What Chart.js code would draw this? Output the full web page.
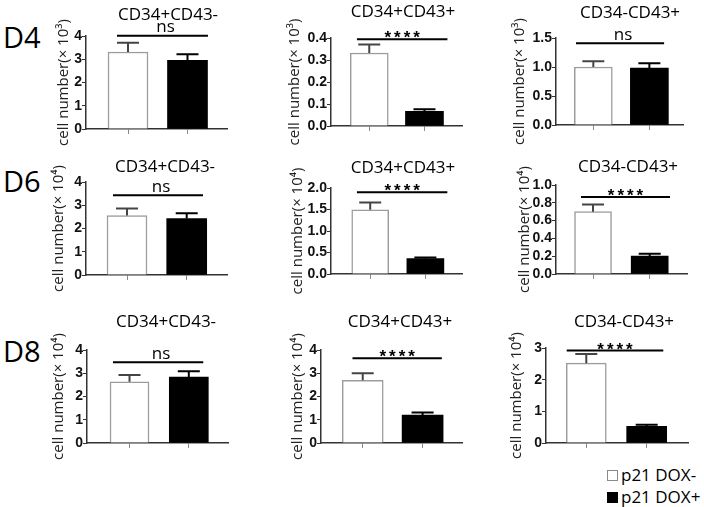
<!DOCTYPE html>
<html>
<head>
<meta charset="utf-8">
<script src="https://cdn.jsdelivr.net/npm/chart.js@4.4.1/dist/chart.umd.min.js"></script>
<style>
    body { margin: 0; background: #fff; }
    #wrap { position: relative; width: 704px; height: 507px; overflow: hidden; font-family: 'Open Sans', sans-serif; color: #000; }
    #wrap canvas { position: absolute; left: 0; top: 0; }
    .day { position: absolute; left: 3px; font-size: 29px; line-height: 29px; }
    .legText { position: absolute; left: 621px; font-size: 17px; line-height: 17px; white-space: nowrap; }
    .legBox { position: absolute; left: 607px; width: 11px; height: 11px; box-sizing: border-box; }
</style>
</head>
<body>
<div id="wrap">
    <div class="day" style="top:22px">D4</div>
    <div class="day" style="top:166px">D6</div>
    <div class="day" style="top:336px">D8</div>
    <div class="legBox" style="top:470px; border:1.5px solid #8a8a8a; background:#fff"></div>
    <div class="legText" style="top:466px">p21 DOX-</div>
    <div class="legBox" style="top:492px; background:#000"></div>
    <div class="legText" style="top:488px">p21 DOX+</div>
</div>
<script>
// Dados (ordem dos painéis: linha D4, linha D6, linha D8)
const days = ['D4', 'D6', 'D8'];
const populations = ['CD34+CD43-', 'CD34+CD43+', 'CD34-CD43+'];
const groups = ['p21 DOX-', 'p21 DOX+'];
const exponents = ['³', '⁴', '⁴'];

const doxMinus = [3.31, 0.332, 1.00, 2.56, 1.495, 0.70, 2.63, 2.70, 2.52];
const doxPlus  = [2.95, 0.067, 0.98, 2.43, 0.356, 0.202, 2.83, 1.20, 0.53];
const semMinus = [0.40, 0.038, 0.10, 0.30, 0.17, 0.08, 0.29, 0.30, 0.29];
const semPlus  = [0.26, 0.009, 0.085, 0.23, 0.03, 0.026, 0.26, 0.11, 0.05];

const yMax  = [4, 0.4, 1.5, 4, 2, 1, 4, 4, 3];
const yStep = [1, 0.1, 0.5, 1, 0.5, 0.2, 1, 1, 1];

const sigLabels = ['ns', '****', 'ns', 'ns', '****', '****', 'ns', '****', '****'];
const sigLevel  = [4.01, 0.394, 1.41, 3.43, 1.9, 0.865, 3.47, 3.65, 2.92];
const sigFrom   = [0.815, 0.777, 0.691, 0.765, 0.759, 0.788, 0.721, 0.829, 0.676];
const sigTo     = [2.344, 2.416, 2.263, 2.273, 2.398, 2.358, 2.244, 2.321, 2.275];

// Posição de cada painel na página (px)
const frames = [
    { l: 86,  r: 227, t: 36,  b: 129, tx: 64,  xmin: 0.294, xmax: 2.664, bw: 40, hx: 168, hy: 15 },
    { l: 331, r: 462, t: 38,  b: 126, tx: 295, xmin: 0.307, xmax: 2.680, bw: 38, hx: 403, hy: 12 },
    { l: 556, r: 683, t: 38,  b: 125, tx: 520, xmin: 0.334, xmax: 2.600, bw: 38, hx: 630, hy: 13 },
    { l: 86,  r: 227, t: 182, b: 275, tx: 59,  xmin: 0.313, xmax: 2.675, bw: 40, hx: 165, hy: 167 },
    { l: 331, r: 462, t: 188, b: 274, tx: 298, xmin: 0.289, xmax: 2.664, bw: 37, hx: 403, hy: 168 },
    { l: 556, r: 687, t: 185, b: 274, tx: 525, xmin: 0.347, xmax: 2.658, bw: 37, hx: 628, hy: 167 },
    { l: 87,  r: 228, t: 350, b: 443, tx: 59,  xmin: 0.283, xmax: 2.661, bw: 39, hx: 166, hy: 322 },
    { l: 321, r: 462, t: 350, b: 443, tx: 298, xmin: 0.303, xmax: 2.658, bw: 41, hx: 400, hy: 322 },
    { l: 546, r: 688, t: 348, b: 443, tx: 517, xmin: 0.333, xmax: 2.684, bw: 40, hx: 624, hy: 322 }
];

// Barras de erro, linha de significância e título de cada painel
const panelExtras = {
    id: 'panelExtras',
    afterDatasetsDraw(chart) {
        const i = chart.options.plugins.panelExtras.index;
        const f = frames[i];
        const { ctx, scales: { x, y } } = chart;
        ctx.save();

        [[doxMinus, semMinus, '#444'], [doxPlus, semPlus, '#000']].forEach(([mean, sem, color], k) => {
            const px = x.getPixelForValue(k + 1);
            const y0 = y.getPixelForValue(mean[i]);
            const y1 = y.getPixelForValue(mean[i] + sem[i]);
            ctx.strokeStyle = color;
            ctx.lineWidth = 2;
            ctx.beginPath();
            ctx.moveTo(px, y0);
            ctx.lineTo(px, y1);
            ctx.moveTo(px - 11, y1);
            ctx.lineTo(px + 11, y1);
            ctx.stroke();
        });

        const sx0 = x.getPixelForValue(sigFrom[i]);
        const sx1 = x.getPixelForValue(sigTo[i]);
        const sy = y.getPixelForValue(sigLevel[i]);
        ctx.strokeStyle = '#000';
        ctx.lineWidth = 2;
        ctx.beginPath();
        ctx.moveTo(sx0, sy);
        ctx.lineTo(sx1, sy);
        ctx.stroke();

        ctx.fillStyle = '#000';
        ctx.textAlign = 'center';
        ctx.textBaseline = 'alphabetic';
        if (sigLabels[i] === 'ns') {
            ctx.font = '17px "Open Sans"';
            ctx.fillText(sigLabels[i], (sx0 + sx1) / 2 + 3, sy - 3.5);
        } else {
            ctx.font = 'bold 17px "Liberation Sans"';
            ctx.letterSpacing = '3px';
            ctx.fillText(sigLabels[i], (sx0 + sx1) / 2 + 1.5, sy + 4);
            ctx.letterSpacing = '0px';
        }

        ctx.font = '17px "Open Sans"';
        ctx.textBaseline = 'middle';
        ctx.fillText(populations[i % 3], f.hx, f.hy);
        ctx.restore();
    }
};

const wrap = document.getElementById('wrap');

function makePanel(i) {
    const f = frames[i];
    const day = Math.floor(i / 3);
    const titleSize = 15;
    const padLeft = f.tx - titleSize * 0.6;
    const decimals = yStep[i] < 1 ? 1 : 0;

    const canvas = document.createElement('canvas');
    canvas.width = 704;
    canvas.height = 507;
    wrap.appendChild(canvas);

    new Chart(canvas.getContext('2d'), {
        type: 'bar',
        data: {
            datasets: [
                {
                    label: groups[0],
                    data: [{ x: 1, y: doxMinus[i] }],
                    backgroundColor: '#fff',
                    borderColor: '#9c9c9c',
                    borderWidth: 1.5,
                    barThickness: f.bw,
                    grouped: false
                },
                {
                    label: groups[1],
                    data: [{ x: 2, y: doxPlus[i] }],
                    backgroundColor: '#000',
                    borderWidth: 0,
                    barThickness: f.bw,
                    grouped: false
                }
            ]
        },
        options: {
            responsive: false,
            animation: false,
            devicePixelRatio: 1,
            layout: { padding: { left: padLeft, top: f.t, right: 704 - f.r, bottom: 507 - f.b - 8 } },
            plugins: {
                legend: { display: false },
                tooltip: { enabled: false },
                panelExtras: { index: i }
            },
            scales: {
                x: {
                    type: 'linear',
                    min: f.xmin,
                    max: f.xmax,
                    offset: false,
                    afterFit: s => { s.height = 8; },
                    ticks: { display: false, stepSize: 1, includeBounds: false },
                    grid: { offset: false, drawOnChartArea: false, tickLength: 5, color: '#8a8a8a' },
                    border: { color: '#333', width: 1.5 }
                },
                y: {
                    min: 0,
                    max: yMax[i],
                    afterFit: s => { s.width = f.l - padLeft; },
                    ticks: {
                        stepSize: yStep[i],
                        autoSkip: false,
                        padding: 0,
                        color: '#111',
                        font: { family: '"Liberation Sans", Arial', weight: 'bold', size: 14 },
                        callback: v => v.toFixed(decimals)
                    },
                    grid: { drawOnChartArea: false, tickLength: 4, color: '#333' },
                    border: { color: '#333', width: 1.5 },
                    title: {
                        display: true,
                        text: 'cell number(× 10' + exponents[day] + ')',
                        color: '#222',
                        font: { family: '"Open Sans"', size: titleSize },
                        padding: { top: 0, bottom: 0 }
                    }
                }
            }
        },
        plugins: [panelExtras]
    });
}

for (let i = 0; i < 9; i++) makePanel(i);
</script>
</body>
</html>
